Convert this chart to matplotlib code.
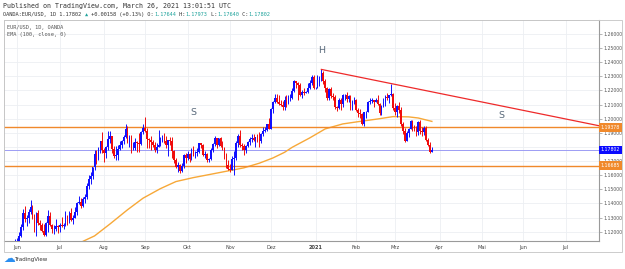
import numpy as np
import pandas as pd
import matplotlib
matplotlib.use('Agg')
import matplotlib.pyplot as plt
from matplotlib.patches import Rectangle
from matplotlib.transforms import blended_transform_factory

# ── daily OANDA EUR/USD bars, 2020-05-29 .. 2021-03-26 (one row per business day) ──
dates = pd.bdate_range('2020-05-29', '2021-03-26')

opens = [
    # May 29 + Jun
    1.1075, 1.1100, 1.1135, 1.1170, 1.1235, 1.1335, 1.1290, 1.1295, 1.1340, 1.1375, 1.1300, 1.1255,
    1.1335, 1.1265, 1.1245, 1.1205, 1.1175, 1.1260, 1.1310, 1.1250, 1.1220, 1.1220, 1.1240,
    # Jul
    1.1235, 1.1250, 1.1240, 1.1245, 1.1310, 1.1275, 1.1330, 1.1285, 1.1300, 1.1340, 1.1400, 1.1410,
    1.1385, 1.1430, 1.1445, 1.1525, 1.1570, 1.1595, 1.1655, 1.1750, 1.1715, 1.1790, 1.1845,
    # Aug
    1.1775, 1.1760, 1.1800, 1.1855, 1.1875, 1.1785, 1.1735, 1.1740, 1.1785, 1.1815, 1.1840, 1.1870,
    1.1930, 1.1835, 1.1860, 1.1795, 1.1795, 1.1835, 1.1830, 1.1820, 1.1905,
    # Sep
    1.1935, 1.1915, 1.1855, 1.1850, 1.1835, 1.1815, 1.1780, 1.1800, 1.1815, 1.1845, 1.1865, 1.1845,
    1.1815, 1.1850, 1.1840, 1.1770, 1.1705, 1.1660, 1.1670, 1.1630, 1.1665, 1.1745,
    # Oct
    1.1720, 1.1750, 1.1715, 1.1780, 1.1735, 1.1760, 1.1765, 1.1825, 1.1815, 1.1745, 1.1750, 1.1705,
    1.1715, 1.1780, 1.1820, 1.1860, 1.1815, 1.1860, 1.1810, 1.1795, 1.1745, 1.1675,
    # Nov
    1.1645, 1.1640, 1.1715, 1.1720, 1.1830, 1.1875, 1.1815, 1.1810, 1.1775, 1.1810, 1.1835, 1.1855,
    1.1860, 1.1850, 1.1870, 1.1855, 1.1840, 1.1890, 1.1915, 1.1920, 1.1965,
    # Dec
    1.1930, 1.2070, 1.2115, 1.2145, 1.2120, 1.2105, 1.2100, 1.2080, 1.2135, 1.2110, 1.2145, 1.2150,
    1.2195, 1.2265, 1.2255, 1.2240, 1.2165, 1.2190, 1.2185, 1.2190, 1.2215, 1.2250, 1.2295,
    # Jan
    1.2215, 1.2220, 1.2250, 1.2295, 1.2325, 1.2270, 1.2220, 1.2150, 1.2210, 1.2160, 1.2155, 1.2080,
    1.2075, 1.2130, 1.2105, 1.2165, 1.2170, 1.2140, 1.2160, 1.2110, 1.2120,
    # Feb
    1.2135, 1.2060, 1.2040, 1.2035, 1.1965, 1.2045, 1.2050, 1.2120, 1.2125, 1.2130, 1.2120, 1.2130,
    1.2105, 1.2040, 1.2090, 1.2120, 1.2155, 1.2150, 1.2165, 1.2175,
    # Mar
    1.2075, 1.2045, 1.2090, 1.2065, 1.1965, 1.1915, 1.1845, 1.1900, 1.1930, 1.1985, 1.1950, 1.1930,
    1.1905, 1.1980, 1.1915, 1.1905, 1.1935, 1.1850, 1.1815, 1.17644,
]
highs = [
    1.1145, 1.1155, 1.1198, 1.1257, 1.1362, 1.1384, 1.1315, 1.1360, 1.1422, 1.1390, 1.1325, 1.1340,
    1.1350, 1.1285, 1.1265, 1.1257, 1.1270, 1.1350, 1.1340, 1.1255, 1.1250, 1.1290, 1.1245,
    1.1265, 1.1302, 1.1260, 1.1345, 1.1320, 1.1345, 1.1370, 1.1320, 1.1375, 1.1410, 1.1452, 1.1440,
    1.1445, 1.1470, 1.1545, 1.1600, 1.1620, 1.1660, 1.1780, 1.1780, 1.1800, 1.1845, 1.1908,
    1.1790, 1.1810, 1.1915, 1.1915, 1.1880, 1.1805, 1.1805, 1.1815, 1.1840, 1.1850, 1.1885, 1.1966,
    1.1950, 1.1885, 1.1885, 1.1835, 1.1860, 1.1845, 1.1900, 1.1915, 1.1965,
    1.2011, 1.1935, 1.1865, 1.1880, 1.1850, 1.1835, 1.1830, 1.1917, 1.1870, 1.1885, 1.1900, 1.1880,
    1.1850, 1.1870, 1.1870, 1.1780, 1.1720, 1.1690, 1.1680, 1.1685, 1.1750, 1.1755,
    1.1770, 1.1755, 1.1790, 1.1810, 1.1770, 1.1790, 1.1830, 1.1830, 1.1820, 1.1770, 1.1760, 1.1725,
    1.1790, 1.1830, 1.1880, 1.1865, 1.1860, 1.1870, 1.1840, 1.1800, 1.1760, 1.1705,
    1.1680, 1.1735, 1.1770, 1.1840, 1.1890, 1.1920, 1.1830, 1.1820, 1.1815, 1.1840, 1.1870, 1.1895,
    1.1890, 1.1870, 1.1890, 1.1905, 1.1900, 1.1940, 1.1940, 1.1965, 1.2005,
    1.2075, 1.2125, 1.2175, 1.2177, 1.2165, 1.2135, 1.2125, 1.2160, 1.2165, 1.2165, 1.2175, 1.2220,
    1.2273, 1.2270, 1.2260, 1.2250, 1.2200, 1.2215, 1.2195, 1.2250, 1.2275, 1.2310, 1.2310,
    1.2225, 1.2310, 1.2305, 1.2349, 1.2340, 1.2280, 1.2225, 1.2215, 1.2225, 1.2180, 1.2165, 1.2090,
    1.2145, 1.2145, 1.2175, 1.2175, 1.2190, 1.2170, 1.2165, 1.2135, 1.2155,
    1.2140, 1.2075, 1.2070, 1.2040, 1.2050, 1.2055, 1.2125, 1.2150, 1.2150, 1.2135, 1.2145, 1.2170,
    1.2110, 1.2095, 1.2145, 1.2170, 1.2180, 1.2170, 1.2243, 1.2185,
    1.2110, 1.2100, 1.2115, 1.2085, 1.1975, 1.1935, 1.1910, 1.1935, 1.1990, 1.1990, 1.1955, 1.1950,
    1.1985, 1.1990, 1.1940, 1.1945, 1.1945, 1.1860, 1.1835, 1.17973,
]
lows = [
    1.1070, 1.1085, 1.1110, 1.1165, 1.1210, 1.1270, 1.1240, 1.1260, 1.1325, 1.1290, 1.1200, 1.1170,
    1.1245, 1.1215, 1.1195, 1.1168, 1.1170, 1.1200, 1.1240, 1.1190, 1.1185, 1.1205, 1.1190,
    1.1200, 1.1235, 1.1220, 1.1240, 1.1250, 1.1265, 1.1275, 1.1255, 1.1295, 1.1320, 1.1395, 1.1370,
    1.1375, 1.1400, 1.1430, 1.1500, 1.1540, 1.1570, 1.1640, 1.1680, 1.1705, 1.1760, 1.1760,
    1.1695, 1.1720, 1.1780, 1.1825, 1.1755, 1.1725, 1.1710, 1.1710, 1.1780, 1.1790, 1.1820, 1.1865,
    1.1825, 1.1800, 1.1755, 1.1780, 1.1780, 1.1765, 1.1765, 1.1815, 1.1890,
    1.1905, 1.1790, 1.1790, 1.1780, 1.1800, 1.1765, 1.1755, 1.1800, 1.1810, 1.1835, 1.1825, 1.1790,
    1.1735, 1.1815, 1.1725, 1.1685, 1.1650, 1.1625, 1.1612, 1.1625, 1.1650, 1.1685,
    1.1710, 1.1695, 1.1705, 1.1735, 1.1725, 1.1735, 1.1755, 1.1790, 1.1735, 1.1720, 1.1690, 1.1690,
    1.1710, 1.1765, 1.1810, 1.1790, 1.1810, 1.1800, 1.1780, 1.1715, 1.1650, 1.1640,
    1.1620, 1.1635, 1.1603, 1.1710, 1.1800, 1.1800, 1.1780, 1.1745, 1.1755, 1.1800, 1.1815, 1.1835,
    1.1840, 1.1800, 1.1835, 1.1800, 1.1830, 1.1880, 1.1905, 1.1910, 1.1925,
    1.1925, 1.2040, 1.2110, 1.2110, 1.2095, 1.2090, 1.2060, 1.2060, 1.2080, 1.2105, 1.2125, 1.2140,
    1.2190, 1.2220, 1.2130, 1.2160, 1.2150, 1.2165, 1.2180, 1.2180, 1.2210, 1.2240, 1.2210,
    1.2210, 1.2215, 1.2230, 1.2265, 1.2245, 1.2190, 1.2130, 1.2130, 1.2150, 1.2130, 1.2070, 1.2055,
    1.2070, 1.2060, 1.2085, 1.2130, 1.2120, 1.2115, 1.2060, 1.2060, 1.2105,
    1.2055, 1.2010, 1.2005, 1.1955, 1.1950, 1.2005, 1.2045, 1.2105, 1.2110, 1.2085, 1.2115, 1.2095,
    1.2025, 1.2025, 1.2080, 1.2090, 1.2135, 1.2110, 1.2160, 1.2065,
    1.2025, 1.2010, 1.2040, 1.1950, 1.1895, 1.1835, 1.1840, 1.1870, 1.1925, 1.1910, 1.1910, 1.1880,
    1.1885, 1.1890, 1.1875, 1.1885, 1.1840, 1.1810, 1.1760, 1.17640,
]
closes = [
    1.1100, 1.1135, 1.1170, 1.1235, 1.1335, 1.1290, 1.1295, 1.1340, 1.1375, 1.1300, 1.1255, 1.1335,
    1.1265, 1.1245, 1.1205, 1.1175, 1.1260, 1.1310, 1.1250, 1.1220, 1.1220, 1.1240, 1.1235,
    1.1250, 1.1240, 1.1245, 1.1310, 1.1275, 1.1330, 1.1285, 1.1300, 1.1340, 1.1400, 1.1410, 1.1385,
    1.1430, 1.1445, 1.1525, 1.1570, 1.1595, 1.1655, 1.1750, 1.1715, 1.1790, 1.1845, 1.1775,
    1.1760, 1.1800, 1.1855, 1.1875, 1.1785, 1.1735, 1.1740, 1.1785, 1.1815, 1.1840, 1.1870, 1.1930,
    1.1835, 1.1860, 1.1795, 1.1795, 1.1835, 1.1830, 1.1820, 1.1905, 1.1935,
    1.1915, 1.1855, 1.1850, 1.1835, 1.1815, 1.1780, 1.1800, 1.1815, 1.1845, 1.1865, 1.1845, 1.1815,
    1.1850, 1.1840, 1.1770, 1.1705, 1.1660, 1.1670, 1.1630, 1.1665, 1.1745, 1.1720,
    1.1750, 1.1715, 1.1780, 1.1735, 1.1760, 1.1765, 1.1825, 1.1815, 1.1745, 1.1750, 1.1705, 1.1715,
    1.1780, 1.1820, 1.1860, 1.1815, 1.1860, 1.1810, 1.1795, 1.1745, 1.1675, 1.1645,
    1.1640, 1.1715, 1.1720, 1.1830, 1.1875, 1.1815, 1.1810, 1.1775, 1.1810, 1.1835, 1.1855, 1.1860,
    1.1850, 1.1870, 1.1855, 1.1840, 1.1890, 1.1915, 1.1920, 1.1965, 1.1930,
    1.2070, 1.2115, 1.2145, 1.2120, 1.2105, 1.2100, 1.2080, 1.2135, 1.2110, 1.2145, 1.2150, 1.2195,
    1.2265, 1.2255, 1.2240, 1.2165, 1.2190, 1.2185, 1.2190, 1.2215, 1.2250, 1.2295, 1.2215,
    1.2220, 1.2250, 1.2295, 1.2325, 1.2270, 1.2220, 1.2150, 1.2210, 1.2160, 1.2155, 1.2080, 1.2075,
    1.2130, 1.2105, 1.2165, 1.2170, 1.2140, 1.2160, 1.2110, 1.2120, 1.2135,
    1.2060, 1.2040, 1.2035, 1.1965, 1.2045, 1.2050, 1.2120, 1.2125, 1.2130, 1.2120, 1.2130, 1.2105,
    1.2040, 1.2090, 1.2120, 1.2155, 1.2150, 1.2165, 1.2175, 1.2075,
    1.2045, 1.2090, 1.2065, 1.1965, 1.1915, 1.1845, 1.1900, 1.1930, 1.1985, 1.1950, 1.1930, 1.1905,
    1.1980, 1.1915, 1.1905, 1.1935, 1.1850, 1.1815, 1.17644, 1.17802,
]
assert len(opens) == len(highs) == len(lows) == len(closes) == len(dates)

# EMA(100, close)
ema_dates = ['2020-07-06', '2020-07-20', '2020-07-27', '2020-08-06', '2020-08-19', '2020-08-31',
             '2020-09-11', '2020-09-23', '2020-10-06', '2020-10-16', '2020-10-29', '2020-11-11',
             '2020-11-23', '2020-12-02', '2020-12-10', '2020-12-16', '2020-12-29', '2021-01-08',
             '2021-01-21', '2021-02-03', '2021-02-16', '2021-02-26', '2021-03-10', '2021-03-17',
             '2021-03-26']
ema_vals = [1.1070, 1.1138, 1.1170, 1.1255, 1.1355, 1.1437,
            1.1505, 1.1555, 1.1583, 1.1604, 1.1628, 1.1652,
            1.1685, 1.1722, 1.1762, 1.1798, 1.1864, 1.1928,
            1.1963, 1.1981, 1.1998, 1.2015, 1.2013, 1.2005,
            1.1981]

# drawings on the chart
support_levels = [1.19378, 1.16685]
last_price = 1.17802
trend_dates = ['2021-01-06', '2021-07-27']
trend_vals = [1.2349, 1.1948]
pattern_labels = ['S', 'H', 'S']
pattern_dates = ['2020-10-06', '2021-01-06', '2021-05-17']
pattern_vals = [1.2041, 1.2482, 1.2022]

DE_MONTHS = ['Jan', 'Feb', 'Mrz', 'Apr', 'Mai', 'Jun', 'Jul', 'Aug', 'Sep', 'Okt', 'Nov', 'Dez']

UP, DOWN = '#1010ff', '#f00c0c'
ORANGE = '#f0892b'
EMA_COL = '#f7a838'
GRID = '#eceff3'
TEAL = '#1fa39c'
MONO = ['DejaVu Sans Mono', 'DejaVu Sans']

W, H = 625, 269
def fx(px): return px / W
def fy(py): return 1 - py / H

fig = plt.figure(figsize=(W / 100, H / 100), dpi=100)
fig.patch.set_facecolor('white')
ax = fig.add_axes([fx(4), fy(241), (599 - 4) / W, (241 - 20) / H])

all_days = pd.bdate_range(dates[0], '2021-08-31')
pos = {d: i for i, d in enumerate(all_days)}
x = np.arange(len(dates))
o, h, l, c = map(np.array, (opens, highs, lows, closes))
cols = np.where(c >= o, UP, DOWN)

ax.set_xlim(-5.7, 301.2)
ax.set_ylim(1.1134, 1.2699)
ax.set_axisbelow(True)

# candles
ax.vlines(x, l, h, colors=cols, lw=0.7, zorder=3)
body = np.maximum(np.abs(c - o), 0.00008)
ax.bar(x, body, bottom=np.minimum(o, c), width=0.85, color=cols, lw=0, zorder=3)

# ema
ex = [pos[pd.Timestamp(d)] for d in ema_dates]
ax.plot(ex, ema_vals, color=EMA_COL, lw=1.0, zorder=2.5)

# horizontal levels + current price
for lv in support_levels:
    ax.axhline(lv, color=ORANGE, lw=1.0, zorder=2.6)
ax.axhline(last_price, color='#9c9cf4', lw=0.7, zorder=2.4)

# trend line
tx = [pos[pd.Timestamp(d)] for d in trend_dates]
ax.plot(tx, trend_vals, color='#ee2a2a', lw=0.9, zorder=4)

for lab, d, v in zip(pattern_labels, pattern_dates, pattern_vals):
    ax.text(pos[pd.Timestamp(d)], v, lab, fontsize=6.8, color='#5b6b7c',
            ha='center', va='center', zorder=5)

# axes / ticks
month_idx, month_lab = [], []
for i in range(1, len(all_days)):
    d = all_days[i]
    if d.month != all_days[i - 1].month and i <= 301:
        month_idx.append(i)
        month_lab.append(str(d.year) if d.month == 1 else DE_MONTHS[d.month - 1])
ax.set_xticks(month_idx)
ax.set_xticklabels(month_lab)
for t in ax.get_xticklabels():
    if t.get_text() == '2021':
        t.set_fontweight('bold')
ax.tick_params(axis='x', length=0, pad=2.6, labelsize=3.6, labelcolor='#444')

yt = np.round(np.arange(1.12, 1.2601, 0.01), 2)
ax.set_yticks(yt)
# the 1.18 label sits under the last-price tag, so it is not shown
ax.set_yticklabels(['' if abs(v - last_price) < 0.004 else f'{v:.5f}' for v in yt])
ax.yaxis.tick_right()
ax.tick_params(axis='y', length=2, width=0.5, color='#999', pad=1.2,
               labelsize=3.3, labelcolor='#555')
ax.grid(True, color=GRID, lw=0.6)

for s in ('left', 'top'):
    ax.spines[s].set_color('#d0d0d0'); ax.spines[s].set_linewidth(0.6)
for s in ('right', 'bottom'):
    ax.spines[s].set_color('#9a9a9a'); ax.spines[s].set_linewidth(0.8)

# price tags on the right scale
trans = blended_transform_factory(ax.transAxes, ax.transData)
for lv, fc in [(support_levels[0], ORANGE), (last_price, '#0a0aff'), (support_levels[1], ORANGE)]:
    ax.text(1.003, lv, f'{lv:.5f}', transform=trans, fontsize=3.3, color='white',
            ha='left', va='center', zorder=6, clip_on=False,
            bbox=dict(boxstyle='square,pad=0.35', fc=fc, ec='none'))

# outer chart frame
fig.patches.append(Rectangle((fx(4), fy(252)), (622 - 4) / W, (252 - 20) / H,
                             transform=fig.transFigure, fill=False, ec='#c4c4c4', lw=0.6))

# header
fig.text(fx(3), fy(6), 'Published on TradingView.com, March 26, 2021 13:01:51 UTC',
         family=MONO, fontsize=4.8, color='#333', va='center')
cw = 3.15
pieces = [('OANDA:EUR/USD, 1D 1.17802 ', '#333'), ('▲', TEAL), (' +0.00158 (+0.13%) O:', '#333'),
          ('1.17644', TEAL), (' H:', '#333'), ('1.17973', TEAL), (' L:', '#333'),
          ('1.17640', TEAL), (' C:', '#333'), ('1.17802', TEAL)]
n = 0
for s, col in pieces:
    fig.text(fx(3 + n * cw), fy(14.5), s, family=MONO, fontsize=3.77, color=col, va='center')
    n += len(s)

fig.text(fx(7), fy(27.5), 'EUR/USD, 1D, OANDA', family=MONO, fontsize=3.8, color='#555', va='center')
fig.text(fx(7), fy(34.5), 'EMA (100, close, 0)', family=MONO, fontsize=3.8, color='#555', va='center')

# footer logo
fig.text(fx(3.5), fy(262.5), '☁', family=['DejaVu Sans'], fontsize=8.5, color='#2a8ef0', va='baseline')
fig.text(fx(14.5), fy(259.5), 'TradingView', fontsize=4.0, color='#333', va='center')

fig.savefig('out.png', dpi=100, facecolor='white')
